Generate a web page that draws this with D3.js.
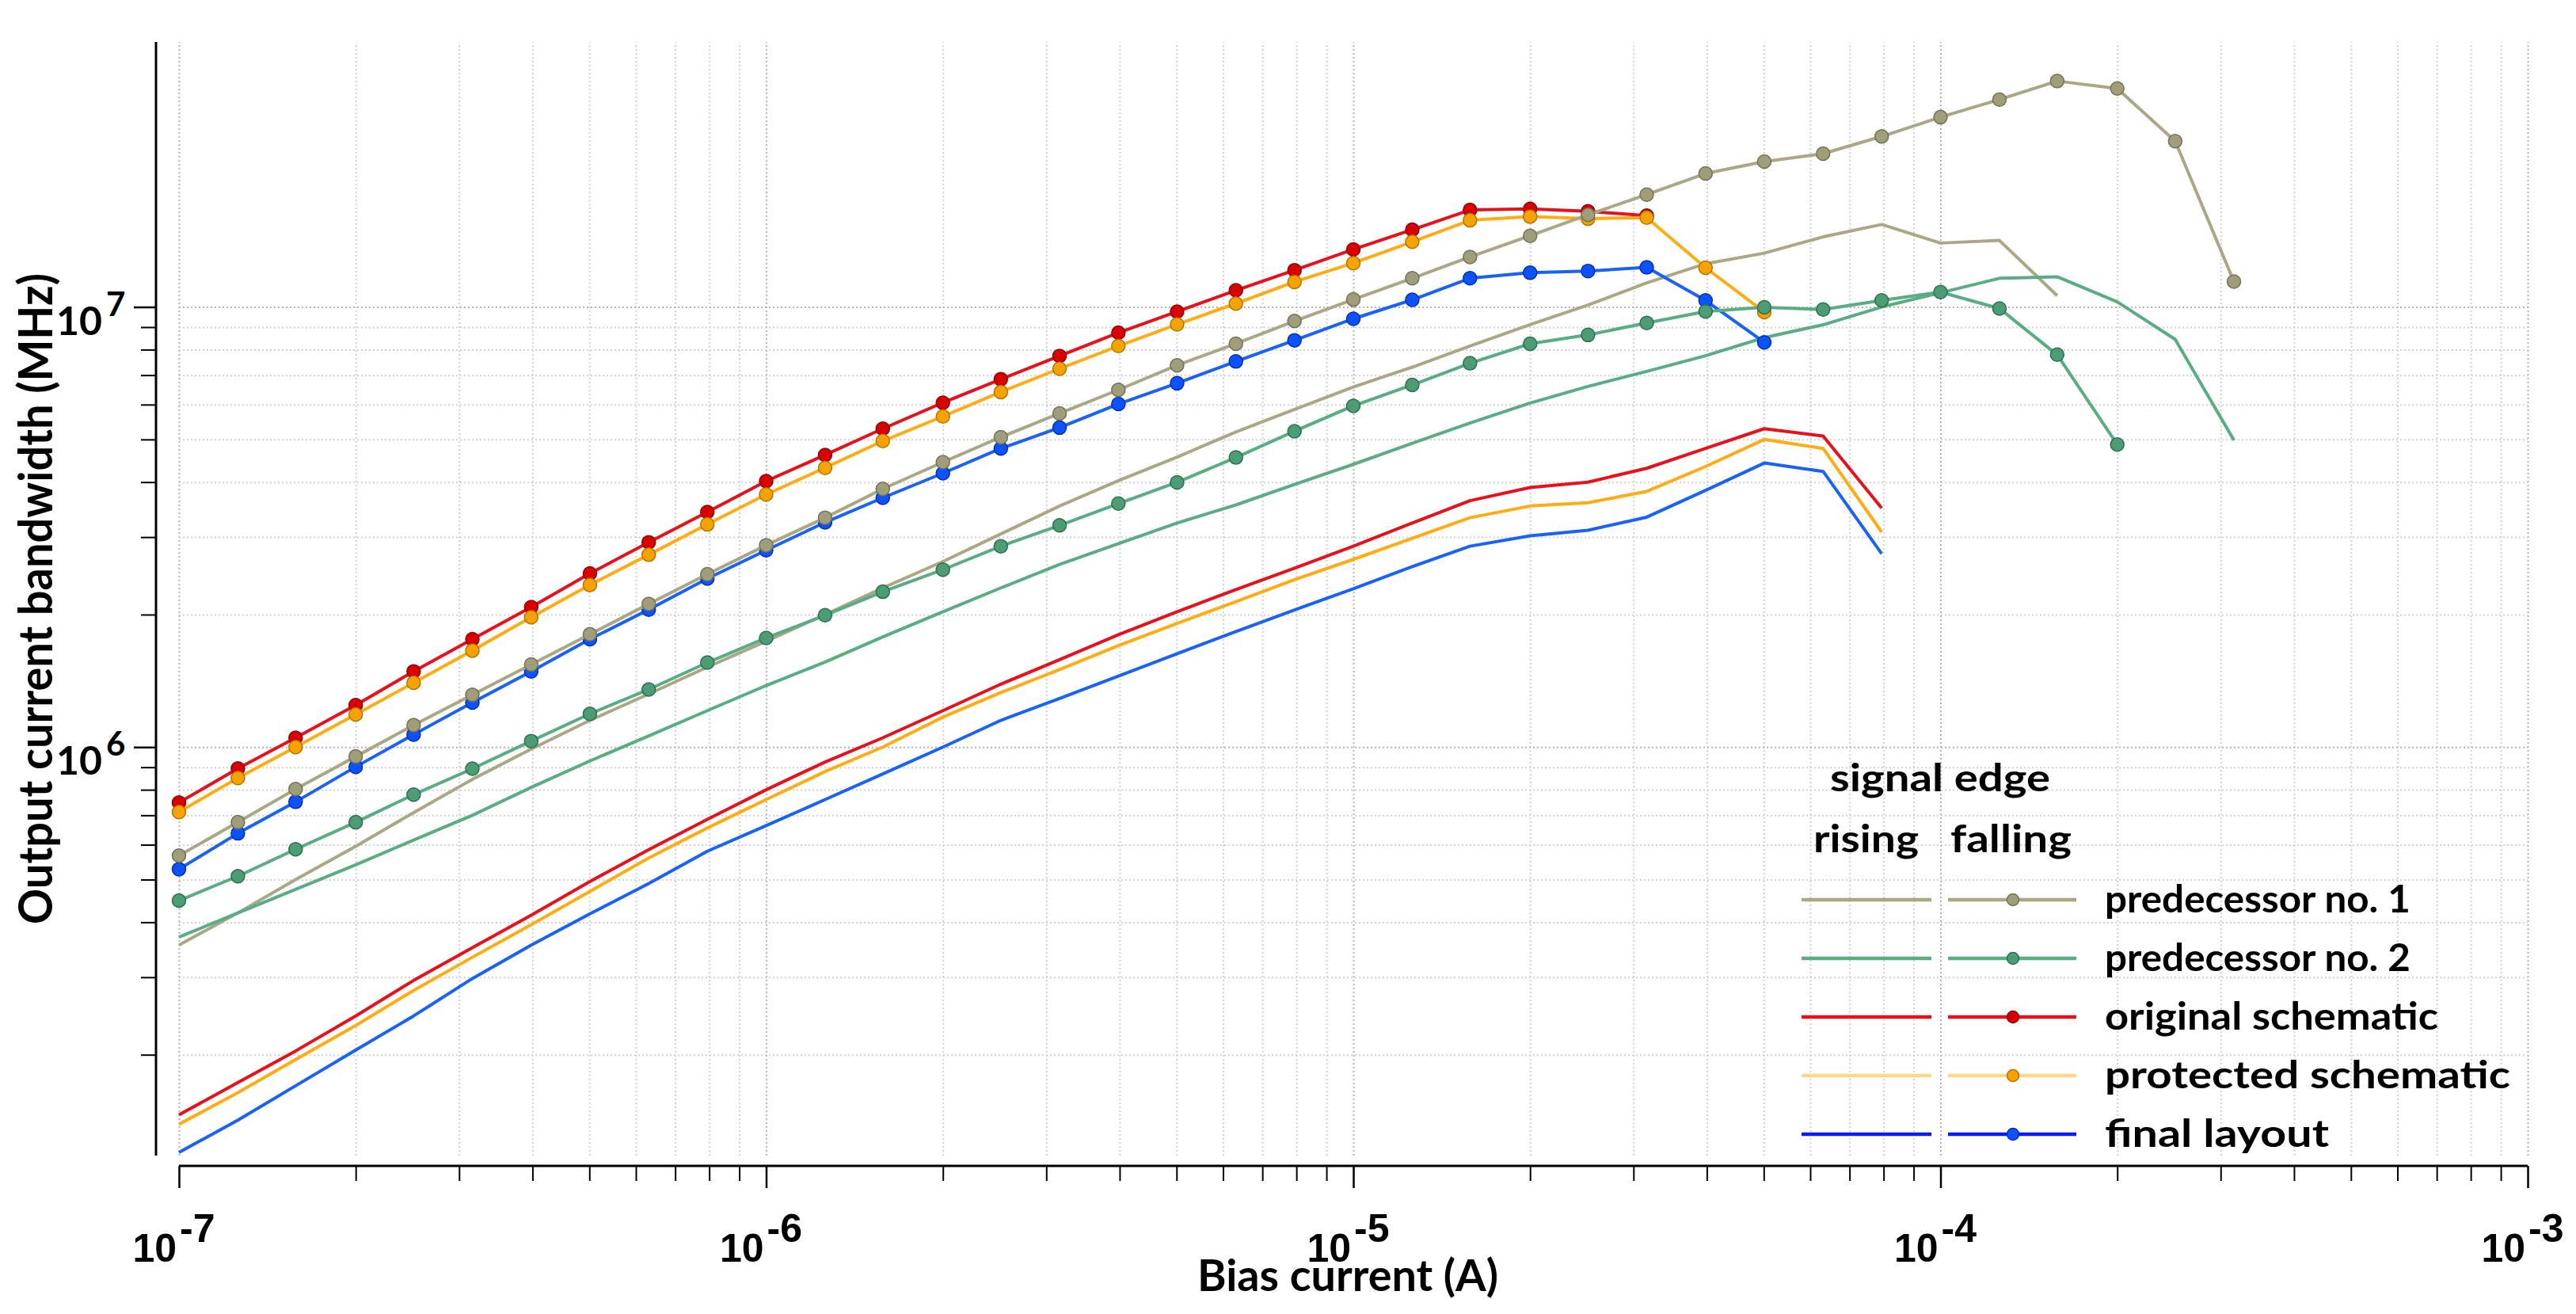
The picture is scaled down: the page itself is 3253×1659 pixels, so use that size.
<!DOCTYPE html>
<html>
<head>
<meta charset="utf-8">
<script src="https://cdn.jsdelivr.net/npm/d3@7"></script>
<style>
  body { margin: 0; background: white; }
</style>
</head>
<body>
<div id="chart"></div>
<script>
// bias current sweep, 10 points per decade
const biasCurrent = [1.00e-7, 1.26e-7, 1.58e-7, 2.00e-7, 2.51e-7, 3.16e-7, 3.98e-7, 5.01e-7, 6.31e-7, 7.94e-7,
                     1.00e-6, 1.26e-6, 1.58e-6, 2.00e-6, 2.51e-6, 3.16e-6, 3.98e-6, 5.01e-6, 6.31e-6, 7.94e-6,
                     1.00e-5, 1.26e-5, 1.58e-5, 2.00e-5, 2.51e-5, 3.16e-5, 3.98e-5, 5.01e-5, 6.31e-5, 7.94e-5,
                     1.00e-4, 1.26e-4, 1.58e-4, 2.00e-4, 2.51e-4, 3.16e-4];

// rising edge (plain lines), values in MHz
const pred1Rising = [3.55e5, 4.2e5, 5.0e5, 5.95e5, 7.1e5, 8.45e5, 9.9e5, 1.15e6, 1.32e6, 1.52e6,
                     1.74e6, 2.0e6, 2.3e6, 2.64e6, 3.05e6, 3.53e6, 4.03e6, 4.56e6, 5.2e6, 5.85e6,
                     6.58e6, 7.3e6, 8.15e6, 9.12e6, 1.01e7, 1.134e7, 1.254e7, 1.325e7, 1.443e7, 1.54e7,
                     1.397e7, 1.416e7, 1.061e7];
const pred2Rising = [3.70e5, 4.2e5, 4.75e5, 5.4e5, 6.15e5, 7.0e5, 8.1e5, 9.3e5, 1.06e6, 1.21e6,
                     1.38e6, 1.56e6, 1.78e6, 2.03e6, 2.3e6, 2.6e6, 2.9e6, 3.23e6, 3.55e6, 3.95e6,
                     4.39e6, 4.9e6, 5.45e6, 6.05e6, 6.6e6, 7.14e6, 7.75e6, 8.52e6, 9.11e6, 1.0e7,
                     1.077e7, 1.162e7, 1.171e7, 1.027e7, 8.44e6, 4.98e6];
const origRising = [1.46e5, 1.73e5, 2.04e5, 2.45e5, 2.95e5, 3.5e5, 4.15e5, 4.95e5, 5.85e5, 6.85e5,
                    8.0e5, 9.25e5, 1.05e6, 1.21e6, 1.39e6, 1.58e6, 1.80e6, 2.03e6, 2.28e6, 2.55e6,
                    2.86e6, 3.23e6, 3.63e6, 3.89e6, 4.0e6, 4.3e6, 4.77e6, 5.29e6, 5.09e6, 3.49e6];
const protRising = [1.39e5, 1.64e5, 1.95e5, 2.33e5, 2.8e5, 3.33e5, 3.95e5, 4.7e5, 5.6e5, 6.55e5,
                    7.6e5, 8.8e5, 1.0e6, 1.17e6, 1.33e6, 1.5e6, 1.7e6, 1.91e6, 2.14e6, 2.4e6,
                    2.67e6, 2.98e6, 3.32e6, 3.53e6, 3.59e6, 3.81e6, 4.34e6, 5.0e6, 4.77e6, 3.08e6];
const finalRising = [1.2e5, 1.42e5, 1.7e5, 2.05e5, 2.45e5, 2.98e5, 3.55e5, 4.18e5, 4.9e5, 5.8e5,
                     6.63e5, 7.6e5, 8.69e5, 1.0e6, 1.15e6, 1.29e6, 1.45e6, 1.63e6, 1.83e6, 2.05e6,
                     2.29e6, 2.57e6, 2.86e6, 3.02e6, 3.11e6, 3.33e6, 3.83e6, 4.42e6, 4.23e6, 2.75e6];

// falling edge (lines with dots)
const pred1Falling = [5.67e5, 6.75e5, 8.03e5, 9.52e5, 1.122e6, 1.315e6, 1.54e6, 1.805e6, 2.115e6, 2.47e6,
                      2.875e6, 3.32e6, 3.86e6, 4.44e6, 5.06e6, 5.73e6, 6.48e6, 7.37e6, 8.25e6, 9.29e6,
                      1.04e7, 1.162e7, 1.299e7, 1.451e7, 1.62e7, 1.80e7, 2.01e7, 2.14e7, 2.23e7, 2.44e7,
                      2.70e7, 2.96e7, 3.26e7, 3.135e7, 2.38e7, 1.142e7];
const pred2Falling = [4.48e5, 5.09e5, 5.86e5, 6.75e5, 7.8e5, 8.93e5, 1.032e6, 1.19e6, 1.352e6, 1.556e6,
                      1.77e6, 1.993e6, 2.254e6, 2.53e6, 2.86e6, 3.19e6, 3.575e6, 3.995e6, 4.55e6, 5.22e6,
                      5.96e6, 6.65e6, 7.45e6, 8.25e6, 8.64e6, 9.2e6, 9.77e6, 9.98e6, 9.87e6, 1.035e7,
                      1.081e7, 9.92e6, 7.79e6, 4.87e6];
const origFalling = [7.48e5, 8.94e5, 1.05e6, 1.246e6, 1.486e6, 1.758e6, 2.08e6, 2.48e6, 2.92e6, 3.42e6,
                     4.02e6, 4.61e6, 5.29e6, 6.06e6, 6.85e6, 7.74e6, 8.74e6, 9.76e6, 1.091e7, 1.212e7,
                     1.351e7, 1.498e7, 1.661e7, 1.67e7, 1.649e7, 1.612e7];
const protFalling = [7.12e5, 8.51e5, 1.0e6, 1.186e6, 1.40e6, 1.657e6, 1.973e6, 2.335e6, 2.736e6, 3.206e6,
                     3.75e6, 4.31e6, 4.96e6, 5.64e6, 6.41e6, 7.24e6, 8.155e6, 9.13e6, 1.018e7, 1.14e7,
                     1.258e7, 1.406e7, 1.574e7, 1.605e7, 1.587e7, 1.596e7, 1.228e7, 9.74e6];
const finalFalling = [5.28e5, 6.37e5, 7.51e5, 9.02e5, 1.068e6, 1.263e6, 1.486e6, 1.759e6, 2.053e6, 2.415e6,
                      2.80e6, 3.24e6, 3.685e6, 4.19e6, 4.77e6, 5.32e6, 6.02e6, 6.71e6, 7.52e6, 8.4e6,
                      9.4e6, 1.038e7, 1.162e7, 1.196e7, 1.207e7, 1.23e7, 1.035e7, 8.31e6];

const seriesNames = ["predecessor no. 1", "predecessor no. 2", "original schematic", "protected schematic", "final layout"];
const xMajorTicks = [1e-7, 1e-6, 1e-5, 1e-4, 1e-3];
const xTickExponents = ["-7", "-6", "-5", "-4", "-3"];
const yMajorTicks = [1e6, 1e7];
const yTickExponents = ["6", "7"];

// colours: line, dot fill, dot outline, legend rising, legend falling line
const styles = [
    {line: "#aba784", fill: "#a09e7a", edge: "#737155", legR: "#aba784", legF: "#aba784"},
    {line: "#58ad83", fill: "#4c9d76", edge: "#2c6e4e", legR: "#58ad83", legF: "#58ad83"},
    {line: "#e8101a", fill: "#d80000", edge: "#960000", legR: "#e8101a", legF: "#e8101a"},
    {line: "#ffab12", fill: "#f5a300", edge: "#b47400", legR: "#fdd58b", legF: "#fdd58b"},
    {line: "#1862f8", fill: "#0d52ff", edge: "#0030b0", legR: "#0a1cf0", legF: "#0a1cf0"}
];

let W = 3253, H = 1659;
let plotLeft = 226, plotRight = 3192, plotTop = 53, plotBottom = 1459;
let xAxisY = 1472, yAxisX = 197;

let svg = d3.select("#chart").append("svg")
    .attr("width", W).attr("height", H)
    .style("background", "white");

let x = d3.scaleLog().domain([1e-7, 1e-3]).range([plotLeft, plotRight]);
let y = d3.scaleLog().domain([1.18e5, 4e7]).range([plotBottom, plotTop]);

// all the 1..9 ticks per decade
let xAll = [];
for (let d = -7; d < -3; d++) for (let m = 1; m < 10; m++) xAll.push(m * Math.pow(10, d));
xAll.push(1e-3);
let isMajorX = v => xMajorTicks.some(t => Math.abs(t - v) / t < 1e-6);
let xMinor = xAll.filter(v => !isMajorX(v));
let yAll = [];
for (let d = 5; d < 7; d++) for (let m = 1; m < 10; m++) {
    let v = m * Math.pow(10, d);
    if (v >= 1.18e5) yAll.push(v);
}
yAll.push(1e7);
let yMinor = yAll.filter(v => v !== 1e6 && v !== 1e7);

// dotted grid
let grid = svg.append("g");
grid.append("g")
    .attr("transform", "translate(0," + plotBottom + ")")
    .call(d3.axisBottom(x).tickValues(xAll).tickSize(-(plotBottom - plotTop)).tickFormat(""))
    .call(g => g.select(".domain").remove())
    .selectAll("line")
    .attr("stroke", d => isMajorX(d) ? "#b4b4b4" : "#d2d2d2")
    .attr("stroke-width", 2)
    .attr("stroke-dasharray", "2,3");
grid.append("g")
    .attr("transform", "translate(" + plotLeft + ",0)")
    .call(d3.axisLeft(y).tickValues(yAll).tickSize(-(plotRight - plotLeft)).tickFormat(""))
    .call(g => g.select(".domain").remove())
    .selectAll("line")
    .attr("stroke", d => yMajorTicks.includes(d) ? "#b4b4b4" : "#d2d2d2")
    .attr("stroke-width", 2)
    .attr("stroke-dasharray", "2,3");

// x axis (offset below the plot)
let xg = svg.append("g").attr("transform", "translate(0," + xAxisY + ")");
xg.append("line").attr("x1", plotLeft).attr("x2", plotRight).attr("stroke", "black").attr("stroke-width", 3);
xg.append("g").call(d3.axisBottom(x).tickValues(xMinor).tickSize(19).tickFormat(""))
    .call(g => g.select(".domain").remove())
    .selectAll("line").attr("stroke", "black").attr("stroke-width", 2);
xg.append("g").call(d3.axisBottom(x).tickValues(xMajorTicks).tickSize(28).tickFormat(""))
    .call(g => g.select(".domain").remove())
    .selectAll("line").attr("stroke", "black").attr("stroke-width", 2.5);

let xLab = svg.append("g").style("font-family", "'Liberation Sans', Arial, sans-serif")
    .style("font-weight", "bold").style("font-size", "50px");
xLab.selectAll("text.base").data(xMajorTicks).enter().append("text")
    .attr("x", d => x(d) - 3).attr("y", 1593).attr("text-anchor", "end").text("10");
xLab.selectAll("text.sup").data(xMajorTicks).enter().append("text")
    .attr("x", d => x(d) + 1).attr("y", 1568).text((d, i) => xTickExponents[i]);

// y axis (offset left of the plot)
let yg = svg.append("g").attr("transform", "translate(" + yAxisX + ",0)");
yg.append("line").attr("y1", plotTop).attr("y2", plotBottom).attr("stroke", "black").attr("stroke-width", 3);
yg.append("g").call(d3.axisLeft(y).tickValues(yMinor).tickSize(19).tickFormat(""))
    .call(g => g.select(".domain").remove())
    .selectAll("line").attr("stroke", "black").attr("stroke-width", 2);
yg.append("g").call(d3.axisLeft(y).tickValues(yMajorTicks).tickSize(28).tickFormat(""))
    .call(g => g.select(".domain").remove())
    .selectAll("line").attr("stroke", "black").attr("stroke-width", 2.5);

let yLab = svg.append("g").style("font-family", "Lato, sans-serif").style("font-weight", "bold");
yLab.selectAll("text.base").data(yMajorTicks).enter().append("text")
    .attr("x", 129).attr("y", d => y(d) + 35).attr("text-anchor", "end")
    .style("font-size", "50px").text("10");
yLab.selectAll("text.sup").data(yMajorTicks).enter().append("text")
    .attr("x", 134).attr("y", d => y(d) + 11)
    .style("font-size", "42px").text((d, i) => yTickExponents[i]);

// axis titles
svg.append("text")
    .attr("transform", "translate(66,756) rotate(-90)")
    .attr("text-anchor", "middle")
    .attr("textLength", 822).attr("lengthAdjust", "spacingAndGlyphs")
    .style("font-family", "Lato, sans-serif").style("font-weight", "bold").style("font-size", "60px")
    .text("Output current bandwidth (MHz)");
svg.append("text")
    .attr("x", 1702).attr("y", 1630)
    .attr("text-anchor", "middle")
    .attr("textLength", 380).attr("lengthAdjust", "spacingAndGlyphs")
    .style("font-family", "Lato, sans-serif").style("font-weight", "bold").style("font-size", "55px")
    .text("Bias current (A)");

// data
let line = d3.line().x(d => x(d[0])).y(d => y(d[1]));
let pairs = vals => vals.map((v, i) => [biasCurrent[i], v]);

let rising = [pred1Rising, pred2Rising, origRising, protRising, finalRising];
let falling = [pred1Falling, pred2Falling, origFalling, protFalling, finalFalling];
let drawOrder = [2, 3, 4, 0, 1];

let plot = svg.append("g");
drawOrder.forEach(k => {
    plot.append("path").datum(pairs(rising[k]))
        .attr("d", line).attr("fill", "none")
        .attr("stroke", styles[k].line).attr("stroke-width", 4)
        .attr("stroke-linejoin", "round");
});
drawOrder.forEach(k => {
    let pts = pairs(falling[k]);
    plot.append("path").datum(pts)
        .attr("d", line).attr("fill", "none")
        .attr("stroke", styles[k].line).attr("stroke-width", 4)
        .attr("stroke-linejoin", "round");
    plot.append("g").selectAll("circle").data(pts).enter().append("circle")
        .attr("cx", d => x(d[0])).attr("cy", d => y(d[1])).attr("r", 8.5)
        .attr("fill", styles[k].fill).attr("stroke", styles[k].edge).attr("stroke-width", 1.5);
});

// legend
let leg = svg.append("g").style("font-family", "Lato, sans-serif").style("font-weight", "bold")
    .style("font-size", "48px");
leg.append("text").attr("x", 2311).attr("y", 999).attr("textLength", 278)
    .attr("lengthAdjust", "spacingAndGlyphs").text("signal edge");
leg.append("text").attr("x", 2290).attr("y", 1076).attr("textLength", 133)
    .attr("lengthAdjust", "spacingAndGlyphs").text("rising");
leg.append("text").attr("x", 2463).attr("y", 1076).attr("textLength", 153)
    .attr("lengthAdjust", "spacingAndGlyphs").text("falling");

let labelWidths = [386, 386, 421, 512, 283];
seriesNames.forEach((name, i) => {
    let ry = 1136 + i * 74;
    leg.append("line").attr("x1", 2275).attr("x2", 2439).attr("y1", ry).attr("y2", ry)
        .attr("stroke", styles[i].legR).attr("stroke-width", 4.5);
    leg.append("line").attr("x1", 2460).attr("x2", 2622).attr("y1", ry).attr("y2", ry)
        .attr("stroke", styles[i].legF).attr("stroke-width", 4.5);
    leg.append("circle").attr("cx", 2542).attr("cy", ry).attr("r", 7.5)
        .attr("fill", styles[i].fill).attr("stroke", styles[i].edge).attr("stroke-width", 1.5);
    leg.append("text").attr("x", 2658).attr("y", ry + 16)
        .attr("textLength", labelWidths[i]).attr("lengthAdjust", "spacingAndGlyphs")
        .text(name);
});
</script>
</body>
</html>
